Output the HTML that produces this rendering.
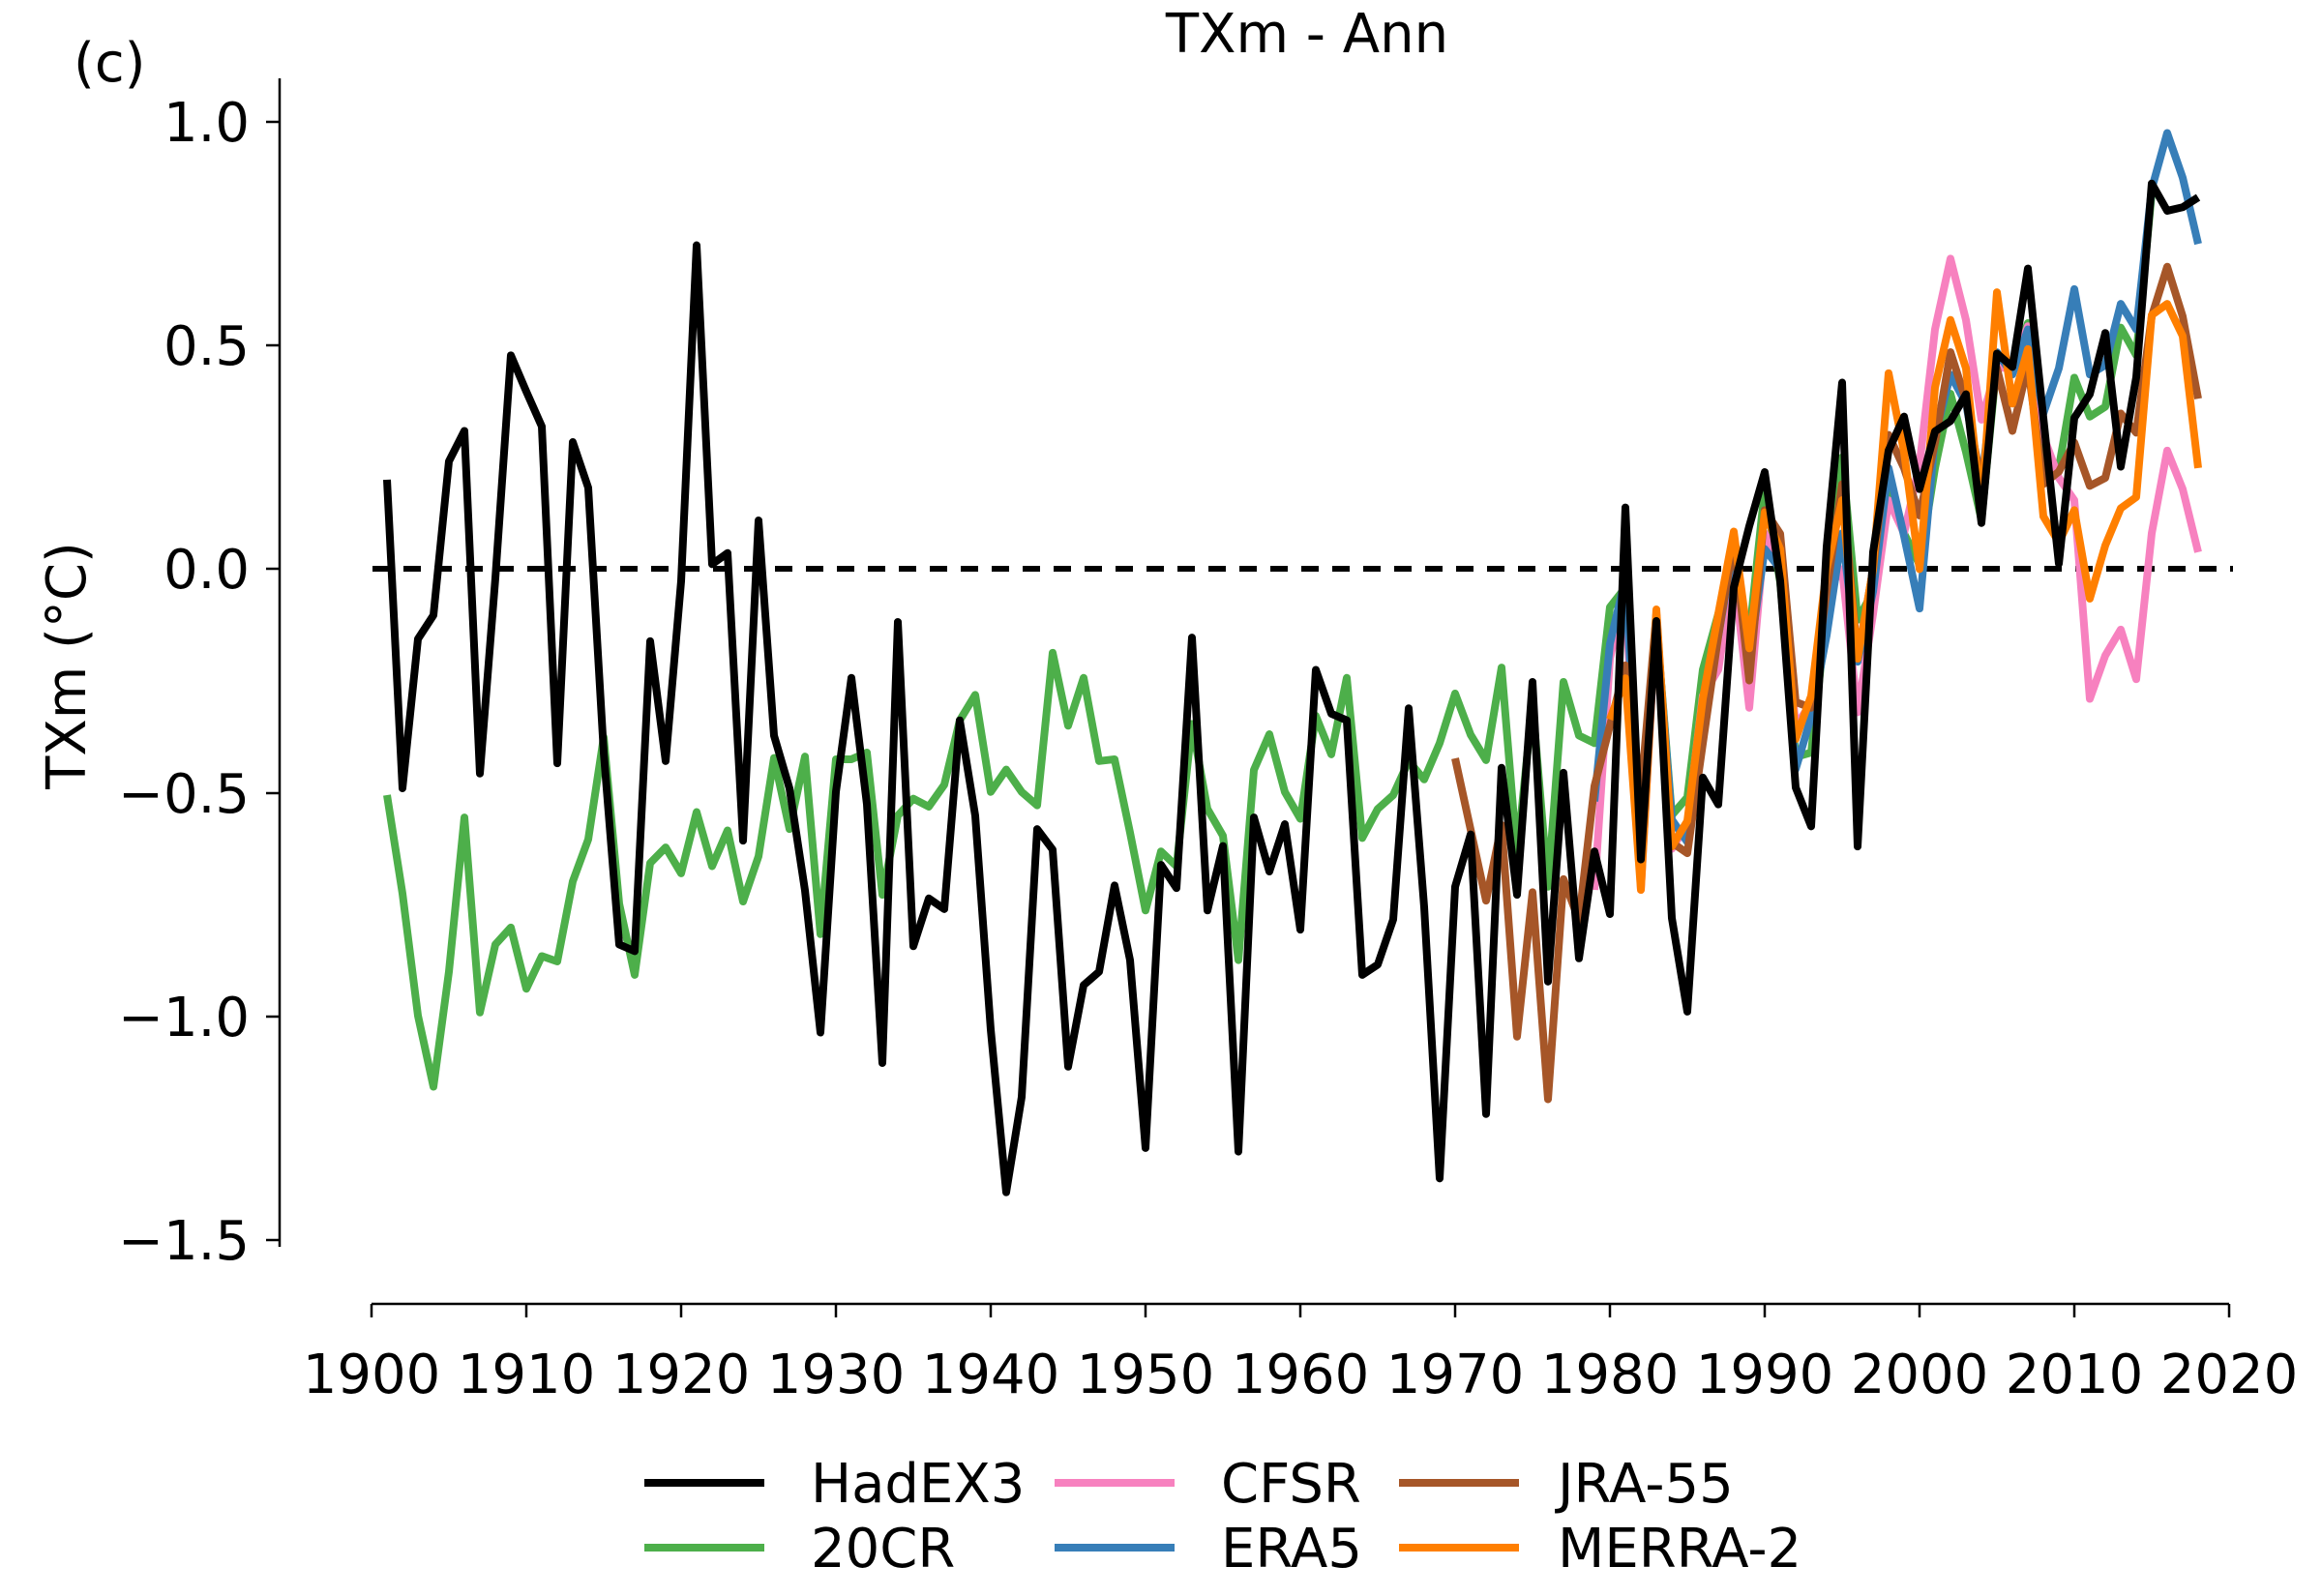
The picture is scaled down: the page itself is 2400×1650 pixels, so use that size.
<!DOCTYPE html>
<html><head><meta charset="utf-8"><style>
html,body{margin:0;padding:0;background:#fff}
svg{display:block}
text{font-family:"DejaVu Sans","Liberation Sans",sans-serif;font-size:56px;fill:#000}
.s{fill:none;stroke-width:8;stroke-linejoin:round;vector-effect:non-scaling-stroke}
</style></head><body>
<svg width="2400" height="1650" viewBox="0 0 2400 1650" xmlns="http://www.w3.org/2000/svg">
<rect width="2400" height="1650" fill="#fff"/>
<text x="76" y="84">(c)</text>
<text x="1351" y="54" text-anchor="middle">TXm - Ann</text>
<text transform="translate(88,688) rotate(-90)" text-anchor="middle">TXm (°C)</text>
<line x1="289" y1="81" x2="289" y2="1289" stroke="#000" stroke-width="2.5"/>
<g stroke="#000" stroke-width="2.5">
<line x1="275" y1="126" x2="289" y2="126"/><line x1="275" y1="357" x2="289" y2="357"/>
<line x1="275" y1="588" x2="289" y2="588"/><line x1="275" y1="820" x2="289" y2="820"/>
<line x1="275" y1="1051" x2="289" y2="1051"/><line x1="275" y1="1282" x2="289" y2="1282"/>
</g>
<g text-anchor="end">
<text x="258" y="146">1.0</text><text x="258" y="377">0.5</text><text x="258" y="608">0.0</text>
<text x="258" y="840">−0.5</text><text x="258" y="1071">−1.0</text><text x="258" y="1302">−1.5</text>
</g>
<line x1="384" y1="1348" x2="2304" y2="1348" stroke="#000" stroke-width="2.5"/>
<g stroke="#000" stroke-width="2.5">
<line x1="384" y1="1348" x2="384" y2="1362"/><line x1="544" y1="1348" x2="544" y2="1362"/>
<line x1="704" y1="1348" x2="704" y2="1362"/><line x1="864" y1="1348" x2="864" y2="1362"/>
<line x1="1024" y1="1348" x2="1024" y2="1362"/><line x1="1184" y1="1348" x2="1184" y2="1362"/>
<line x1="1344" y1="1348" x2="1344" y2="1362"/><line x1="1504" y1="1348" x2="1504" y2="1362"/>
<line x1="1664" y1="1348" x2="1664" y2="1362"/><line x1="1824" y1="1348" x2="1824" y2="1362"/>
<line x1="1984" y1="1348" x2="1984" y2="1362"/><line x1="2144" y1="1348" x2="2144" y2="1362"/>
<line x1="2304" y1="1348" x2="2304" y2="1362"/>
</g>
<g text-anchor="middle">
<text x="384" y="1440">1900</text><text x="544" y="1440">1910</text><text x="704" y="1440">1920</text>
<text x="864" y="1440">1930</text><text x="1024" y="1440">1940</text><text x="1184" y="1440">1950</text>
<text x="1344" y="1440">1960</text><text x="1504" y="1440">1970</text><text x="1664" y="1440">1980</text>
<text x="1824" y="1440">1990</text><text x="1984" y="1440">2000</text><text x="2144" y="1440">2010</text>
<text x="2304" y="1440">2020</text>
</g>
<line x1="385" y1="588" x2="2308" y2="588" stroke="#000" stroke-width="6" stroke-dasharray="18 14"/>
<g transform="translate(384,588.4) scale(16,-462.5)">
<polyline class="s" stroke="#4daf4a" points="1,-0.505 2,-0.725 3,-0.998 4,-1.157 5,-0.9 6,-0.555 7,-0.991 8,-0.839 9,-0.801 10,-0.938 11,-0.865 12,-0.877 13,-0.698 14,-0.604 15,-0.376 16,-0.748 17,-0.907 18,-0.657 19,-0.622 20,-0.68 21,-0.543 22,-0.664 23,-0.584 24,-0.743 25,-0.642 26,-0.422 27,-0.581 28,-0.419 29,-0.816 30,-0.425 31,-0.425 32,-0.41 33,-0.728 34,-0.551 35,-0.513 36,-0.531 37,-0.482 38,-0.338 39,-0.281 40,-0.498 41,-0.448 42,-0.498 43,-0.528 44,-0.187 45,-0.35 46,-0.243 47,-0.429 48,-0.425 49,-0.589 50,-0.763 51,-0.631 52,-0.664 53,-0.346 54,-0.536 55,-0.596 56,-0.874 57,-0.449 58,-0.369 59,-0.498 60,-0.558 61,-0.328 62,-0.414 63,-0.243 64,-0.601 65,-0.536 66,-0.505 67,-0.429 68,-0.47 69,-0.389 70,-0.278 71,-0.37 72,-0.427 73,-0.22 74,-0.64 75,-0.3 76,-0.71 77,-0.252 78,-0.372 79,-0.389 80,-0.085 81,-0.041 82,-0.62 83,-0.12 84,-0.55 85,-0.51 86,-0.225 87,-0.1 88,0 89,-0.15 90,0.18 91,-0.03 92,-0.42 93,-0.41 94,-0.1 95,0.25 96,-0.113 97,-0.05 98,0.19 99,0.08 100,0.01 101,0.226 102,0.392 103,0.262 104,0.11 105,0.464 106,0.46 107,0.55 108,0.226 109,0.226 110,0.428 111,0.341 112,0.363 113,0.54 114,0.478 115,0.84"/>
<polyline class="s" stroke="#f781bf" points="79,-0.717 80,-0.2 81,-0.05 82,-0.717 83,-0.1 84,-0.625 85,-0.57 86,-0.283 87,-0.225 88,0 89,-0.31 90,0.08 91,0 92,-0.35 93,-0.3 94,-0.05 95,0 96,-0.32 97,-0.1 98,0.154 99,0.08 100,0.233 101,0.536 102,0.694 103,0.557 104,0.334 105,0.45 106,0.45 107,0.543 108,0.298 109,0.204 110,0.154 111,-0.29 112,-0.193 113,-0.135 114,-0.246 115,0.08 116,0.265 117,0.179 118,0.038"/>
<polyline class="s" stroke="#377eb8" points="79,-0.519 80,-0.167 81,-0.02 82,-0.65 83,-0.12 84,-0.56 85,-0.61 86,-0.3 87,-0.15 88,0.05 89,-0.2 90,0.045 91,0 92,-0.447 93,-0.33 94,-0.148 95,0.08 96,-0.207 97,-0.05 98,0.226 99,0.074 100,-0.088 101,0.298 102,0.435 103,0.37 104,0.19 105,0.485 106,0.435 107,0.536 108,0.348 109,0.449 110,0.626 111,0.435 112,0.456 113,0.593 114,0.536 115,0.85 116,0.975 117,0.875 118,0.727"/>
<polyline class="s" stroke="#a65628" points="70,-0.423 71,-0.582 72,-0.741 73,-0.572 74,-1.045 75,-0.722 76,-1.185 77,-0.693 78,-0.785 79,-0.485 80,-0.35 81,-0.215 82,-0.5 83,-0.1 84,-0.611 85,-0.635 86,-0.39 87,-0.15 88,0.065 89,-0.249 90,0.132 91,0.079 92,-0.297 93,-0.31 94,-0.05 95,0.19 96,-0.2 97,0 98,0.3 99,0.226 100,0.12 101,0.283 102,0.485 103,0.377 104,0.19 105,0.449 106,0.309 107,0.456 108,0.19 109,0.218 110,0.283 111,0.186 112,0.204 113,0.348 114,0.305 115,0.565 116,0.676 117,0.565 118,0.381"/>
<polyline class="s" stroke="#ff7f00" points="80,-0.336 81,-0.244 82,-0.717 83,-0.09 84,-0.62 85,-0.563 86,-0.29 87,-0.1 88,0.084 89,-0.177 90,0.127 91,0.045 92,-0.38 93,-0.283 94,0 95,0.154 96,-0.2 97,0 98,0.438 99,0.262 100,0 101,0.406 102,0.557 103,0.449 104,0.132 105,0.619 106,0.37 107,0.492 108,0.118 109,0.06 110,0.132 111,-0.066 112,0.053 113,0.136 114,0.161 115,0.568 116,0.593 117,0.521 118,0.226"/>
<polyline class="s" stroke="#000" points="1,0.2 2,-0.49 3,-0.156 4,-0.103 5,0.241 6,0.309 7,-0.457 8,-0.02 9,0.478 10,0.397 11,0.319 12,-0.434 13,0.284 14,0.182 15,-0.41 16,-0.839 17,-0.854 18,-0.161 19,-0.429 20,-0.027 21,0.724 22,0.011 23,0.036 24,-0.607 25,0.109 26,-0.372 27,-0.49 28,-0.718 29,-1.036 30,-0.498 31,-0.243 32,-0.525 33,-1.104 34,-0.118 35,-0.843 36,-0.736 37,-0.76 38,-0.338 39,-0.551 40,-1.029 41,-1.393 42,-1.18 43,-0.581 44,-0.627 45,-1.112 46,-0.93 47,-0.9 48,-0.707 49,-0.874 50,-1.294 51,-0.661 52,-0.713 53,-0.153 54,-0.763 55,-0.619 56,-1.302 57,-0.555 58,-0.676 59,-0.57 60,-0.806 61,-0.225 62,-0.323 63,-0.338 64,-0.907 65,-0.884 66,-0.783 67,-0.311 68,-0.755 69,-1.362 70,-0.71 71,-0.593 72,-1.218 73,-0.444 74,-0.728 75,-0.252 76,-0.922 77,-0.455 78,-0.87 79,-0.631 80,-0.771 81,0.138 82,-0.649 83,-0.116 84,-0.78 85,-0.989 86,-0.466 87,-0.526 88,-0.041 89,0.096 90,0.217 91,-0.026 92,-0.488 93,-0.575 94,0.05 95,0.417 96,-0.62 97,0.038 98,0.265 99,0.341 100,0.179 101,0.308 102,0.331 103,0.391 104,0.103 105,0.482 106,0.452 107,0.672 108,0.338 109,0.012 110,0.338 111,0.391 112,0.528 113,0.229 114,0.429 115,0.862 116,0.801 117,0.809 118,0.831"/>
</g>
<g stroke-width="8">
<line x1="666" y1="1533" x2="790" y2="1533" stroke="#000"/>
<line x1="666" y1="1600" x2="790" y2="1600" stroke="#4daf4a"/>
<line x1="1090" y1="1533" x2="1214" y2="1533" stroke="#f781bf"/>
<line x1="1090" y1="1600" x2="1214" y2="1600" stroke="#377eb8"/>
<line x1="1446" y1="1533" x2="1570" y2="1533" stroke="#a65628"/>
<line x1="1446" y1="1600" x2="1570" y2="1600" stroke="#ff7f00"/>
</g>
<text x="838" y="1553">HadEX3</text>
<text x="838" y="1620">20CR</text>
<text x="1262" y="1553">CFSR</text>
<text x="1262" y="1620">ERA5</text>
<text x="1610" y="1553">JRA-55</text>
<text x="1610" y="1620">MERRA-2</text>
</svg>
</body></html>
